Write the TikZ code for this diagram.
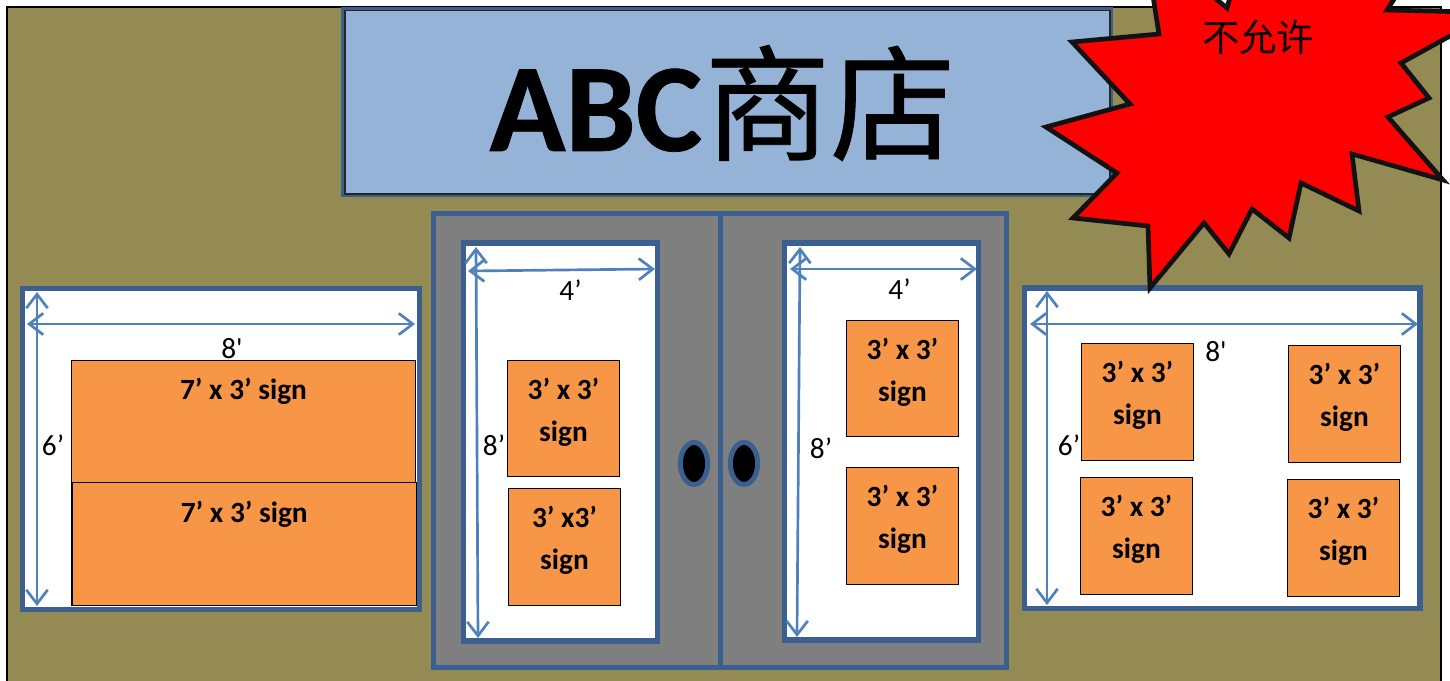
\documentclass[tikz,border=0pt]{standalone}
\usepackage{fontspec}
\usetikzlibrary{arrows.meta,shapes.geometric}
\newfontfamily\calfont{Carlito}
\newfontfamily\caltitle[FakeBold=0.6]{Carlito Bold}
\newfontfamily\cjkfont{Noto Sans CJK SC}
\newfontfamily\cjktitle[FakeBold=0.7]{Noto Sans CJK SC}
\definecolor{wallc}{HTML}{948A54}
\definecolor{bluefill}{HTML}{95B3D7}
\definecolor{edgec}{HTML}{3B5F8E}
\definecolor{dimc}{HTML}{4F81BD}
\definecolor{signc}{HTML}{F79646}
\definecolor{doorc}{HTML}{7F7F7F}
\newcommand{\bx}[7]{%
  \pgfmathsetmacro\bxcx{(#2+#4)/2}\pgfmathsetmacro\bxcy{(#3+#5)/2}%
  \pgfmathsetmacro\bxw{(#4-#2)*0.75}\pgfmathsetmacro\bxh{(#5-#3)*0.75}%
  \node[#6,minimum width=\bxw pt,minimum height=\bxh pt] (#1) at (\bxcx,\bxcy) {#7};}
\newcommand{\dimline}[5]{%
  \coordinate (#1a) at (#2,#3);\coordinate (#1b) at (#4,#5);%
  \draw[dimline] (#1a) -- (#1b);}
\tikzset{
  x=0.75pt,y=-0.75pt,
  every node/.style={inner sep=0pt,outer sep=0pt},
  wall/.style={draw=black,line width=1.5pt,fill=wallc},
  windowbox/.style={draw=edgec,line width=4pt,fill=white},
  doorbox/.style={draw=edgec,line width=3.75pt,fill=doorc},
  titlebox/.style={draw=edgec,line width=3pt,fill=bluefill},
  titleline/.style={draw=black!85,line width=0.9pt},
  signbox/.style={draw=black,line width=1pt,fill=signc,align=center,text depth=13.5pt,font=\calfont\bfseries\fontsize{22}{31.5}\selectfont},
  signtop/.style={signbox,text depth=49pt},
  dimline/.style={draw=dimc,line width=2pt,{Straight Barb[length=10.5pt,width=16pt]}-{Straight Barb[length=10.5pt,width=16pt]}},
  dimlabel/.style={font=\calfont\fontsize{22}{26}\selectfont},
  knob/.style={draw=edgec,line width=3.75pt,fill=black,ellipse},
  burst/.style={draw=black!93,line width=3.5pt,fill=red,miter limit=10},
}
\begin{document}
\begin{tikzpicture}
\useasboundingbox (0,0) rectangle (1450,681);
\clip (0,0) rectangle (1450,681);
\fill[white] (0,0) rectangle (1450,681);
% wall
\bx{wallbox}{7}{7}{1441}{720}{wall}{}
% title
\bx{title}{343}{9}{1111}{195}{titlebox}{}
\bx{titleinner}{345}{10.5}{1110}{194}{titleline}{}
\node (titletext) at (722.5,103) {\caltitle\fontsize{94}{100}\selectfont ABC\kern2pt\cjktitle\fontsize{94}{100}\selectfont 商店};
% doors
\bx{doorL}{433.5}{214}{720}{667.5}{doorbox}{}
\bx{doorR}{720}{214}{1006.5}{667}{doorbox}{}
\bx{doorLwin}{463.5}{243}{657.5}{641}{windowbox}{}
\bx{doorRwin}{784.5}{243}{978.5}{640}{windowbox}{}
\node[knob,minimum width=20.5pt,minimum height=31.5pt] (knobL) at (694,463.5) {};
\node[knob,minimum width=20.5pt,minimum height=31.5pt] (knobR) at (744,463.5) {};
% windows
\bx{winL}{22.5}{288.5}{419.5}{609.5}{windowbox}{}
\bx{winR}{1024.5}{288}{1420}{608.5}{windowbox}{}
% signs: left window
\bx{s1}{71.5}{360.5}{415.5}{482.5}{signtop}{7’ x 3’ sign}
\bx{s2}{72}{482.5}{416.5}{605.5}{signtop}{7’ x 3’ sign}
% left door
\bx{s3}{507.5}{360.5}{619.5}{476.5}{signbox}{3’ x 3’\\sign}
\bx{s4}{508.5}{488.5}{620.5}{605.5}{signbox}{3’ x3’\\sign}
% right door
\bx{s5}{846.5}{320.5}{958.5}{436.5}{signbox}{3’ x 3’\\sign}
\bx{s6}{846.5}{467.5}{958.5}{584.5}{signbox}{3’ x 3’\\sign}
% right window
\bx{s7}{1081.5}{343.5}{1193.5}{460.5}{signbox}{3’ x 3’\\sign}
\bx{s8}{1288.5}{345.5}{1400.5}{462.5}{signbox}{3’ x 3’\\sign}
\bx{s9}{1080.5}{477.5}{1192.5}{594.5}{signbox}{3’ x 3’\\sign}
\bx{s10}{1287.5}{479.5}{1399.5}{596.5}{signbox}{3’ x 3’\\sign}
% dimension lines
\dimline{d1}{37}{292}{37}{606}
\dimline{d2}{27}{324}{415}{324}
\dimline{d3}{476}{247}{478}{638}
\dimline{d4}{468}{271}{655}{269}
\dimline{d5}{800}{247}{797}{637}
\dimline{d6}{790}{269}{977}{269}
\dimline{d7}{1047}{291}{1047}{605}
\dimline{d8}{1030}{324}{1418}{324}
% dimension labels
\node[dimlabel] (l1) at (232,349) {8\textquotesingle};
\node[dimlabel] (l2) at (53,445) {6’};
\node[dimlabel] (l3) at (570.5,290) {4’};
\node[dimlabel] (l4) at (494,445) {8’};
\node[dimlabel] (l5) at (899.5,289) {4’};
\node[dimlabel] (l6) at (821,448) {8’};
\node[dimlabel] (l7) at (1216,352) {8\textquotesingle};
\node[dimlabel] (l8) at (1069,445) {6’};
% burst
\draw[burst] (1152,-10) -- (1159,34) -- (1072,42) -- (1130,104) -- (1046,127) -- (1117,173) -- (1073,218) -- (1148,226) -- (1150,288) -- (1204,223) -- (1229,254) -- (1252,209) -- (1289,238) -- (1301,183) -- (1359,211) -- (1352,154) -- (1443,180) -- (1388,117) -- (1429,98) -- (1401,63) -- (1470,25) -- (1470,12) -- (1387,10) -- (1400,-10) -- (1232,-10) -- (1227,8) -- (1205,-10) -- cycle;
\node[font=\cjkfont\fontsize{28}{30}\selectfont] (burstlabel) at (1258,37) {不允许};
\end{tikzpicture}
\end{document}
